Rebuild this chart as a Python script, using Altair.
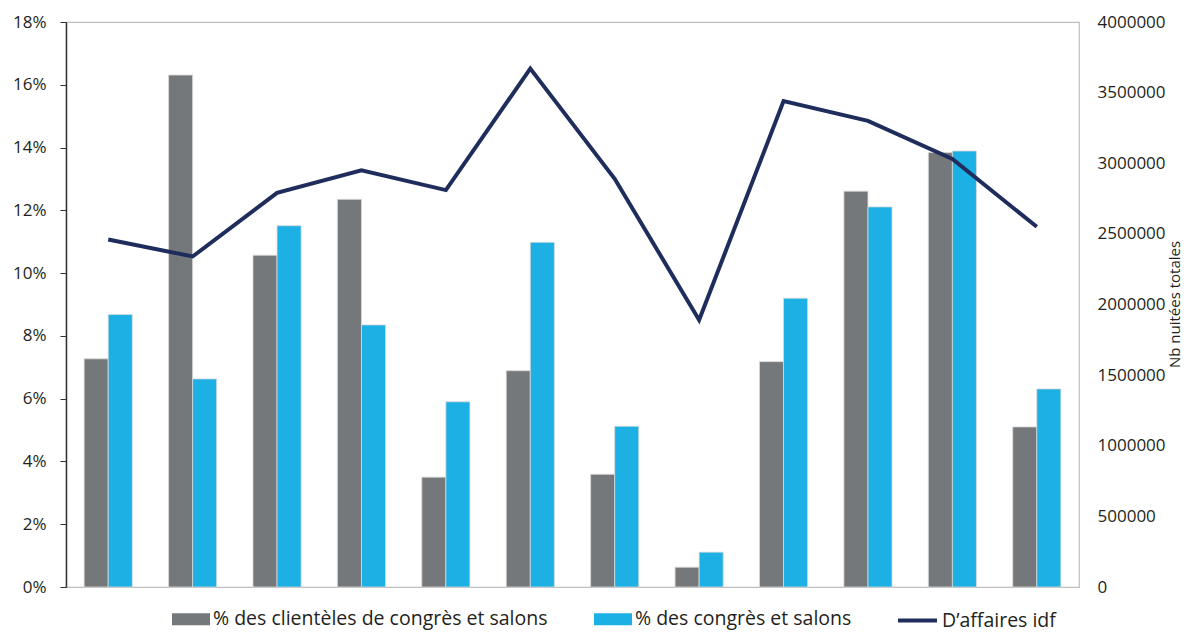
import altair as alt
import pandas as pd

categories = [f"P{i:02d}" for i in range(1, 13)]
series_names = ["% des clientèles de congrès et salons", "% des congrès et salons"]
pct_clienteles = [7.27, 16.31, 10.57, 12.35, 3.50, 6.89, 3.59, 0.63, 7.18, 12.61, 13.84, 5.10]
pct_congres = [8.68, 6.63, 11.51, 8.35, 5.90, 10.98, 5.12, 1.11, 9.20, 12.11, 13.89, 6.31]
line_name = "D’affaires idf"
nuitees = [2460000, 2340000, 2790000, 2950000, 2810000, 3670000, 2890000, 1890000,
           3440000, 3300000, 3030000, 2550000]

rows = []
for c, a, b in zip(categories, pct_clienteles, pct_congres):
    rows.append({"cat": c, "serie": series_names[0], "val": a})
    rows.append({"cat": c, "serie": series_names[1], "val": b})
bars_df = pd.DataFrame(rows)
line_df = pd.DataFrame({"cat": categories, "nuitees": nuitees, "serie": line_name})

FONT = "Open Sans"
TXT = "#231f20"
LEG_FS = 19.5

x_enc = alt.X("cat:N", sort=categories,
              scale=alt.Scale(paddingInner=0.43, paddingOuter=0.215), axis=None)

bars = alt.Chart(bars_df).mark_bar(stroke="#d9d9d9", strokeWidth=0.8).encode(
    x=x_enc,
    xOffset=alt.XOffset("serie:N", sort=series_names),
    y=alt.Y("val:Q",
            scale=alt.Scale(domain=[0, 18], nice=False),
            axis=alt.Axis(values=list(range(0, 19, 2)), labelExpr="datum.value + '%'",
                          title=None, grid=False, domainColor="#333333", tickColor="#333333",
                          domainWidth=1.5, tickSize=6, labelPadding=14, labelFontSize=17,
                          labelFont=FONT, labelColor=TXT)),
    color=alt.Color("serie:N", sort=series_names,
                    scale=alt.Scale(domain=series_names, range=["#75787b", "#1cb0e4"]),
                    legend=alt.Legend(orient="none", legendX=115, legendY=587,
                                      direction="horizontal", title=None,
                                      symbolType="M-1.9,-0.6H1.9V0.6H-1.9Z", symbolSize=400,
                                      symbolStrokeWidth=0, labelFontSize=LEG_FS, labelFont=FONT,
                                      labelColor=TXT, labelLimit=0, columnPadding=46,
                                      labelOffset=12, padding=0)),
)

line = alt.Chart(line_df).mark_line(strokeWidth=4).encode(
    x=alt.X("cat:N", sort=categories),
    y=alt.Y("nuitees:Q",
            scale=alt.Scale(domain=[0, 4000000], nice=False),
            axis=alt.Axis(orient="right", values=list(range(0, 4000001, 500000)), format="d",
                          title="Nb nuitées totales", titleAngle=270, titleFontSize=15,
                          titleFontWeight="normal", titleFont=FONT, titleColor=TXT,
                          titleX=95, titleY=282, titleAlign="center", titleBaseline="middle",
                          domain=False, ticks=False, grid=False,
                          labelPadding=18, labelFontSize=17, labelFont=FONT, labelColor=TXT)),
    stroke=alt.Stroke("serie:N",
                      scale=alt.Scale(domain=[line_name], range=["#1f2d5c"]),
                      legend=alt.Legend(orient="none", legendX=830, legendY=577, title=None,
                                        symbolType="stroke", symbolSize=1521,
                                        symbolStrokeWidth=4, labelFontSize=LEG_FS,
                                        labelFont=FONT, labelColor=TXT, labelLimit=0,
                                        labelOffset=3, padding=0)),
)

chart = alt.layer(bars, line).resolve_scale(y="independent").properties(
    width=1013, height=565,
    padding={"left": 4, "top": 5, "right": 0, "bottom": 0},
).configure_view(stroke="#bfbfbf", strokeWidth=1.2)

chart.save("out.html", embed_options={"renderer": "svg", "actions": False})
